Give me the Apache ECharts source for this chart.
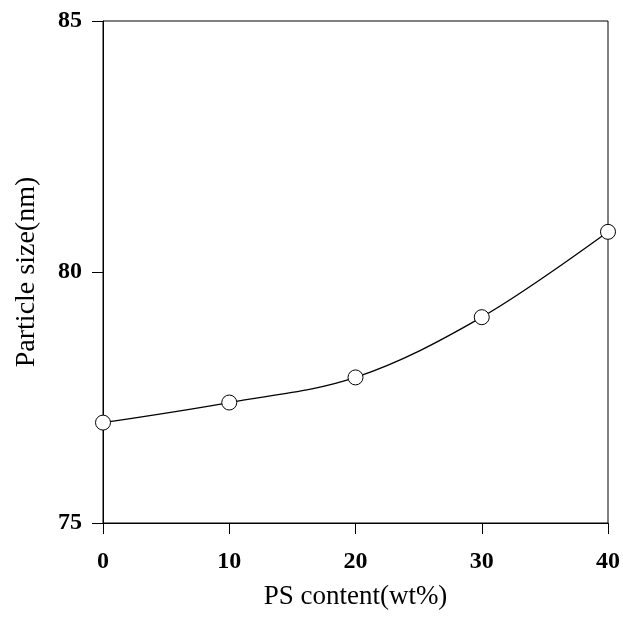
<!DOCTYPE html>
<html>
<head>
<meta charset="utf-8">
<script src="https://cdn.jsdelivr.net/npm/echarts@6/dist/echarts.min.js"></script>
<style>html,body{margin:0;padding:0;background:#fff;}#c{width:623px;height:620px;}</style>
</head>
<body>
<div id="c"></div>
<script>
const psContent = [0, 10, 20, 30, 40];
const particleSize = [77.0, 77.4, 77.9, 79.1, 80.8];
const xTicks = [0, 10, 20, 30, 40];
const yTicks = [75, 80, 85];

const chart = echarts.init(document.getElementById('c'), null, {renderer: 'canvas'});
const font = '"Liberation Serif", "Times New Roman", serif';
chart.setOption({
  animation: false,
  backgroundColor: '#fff',
  grid: {left: 103, right: 11, top: 21, bottom: 97, show: true, borderColor: '#000', borderWidth: 1},
  xAxis: {
    type: 'value', min: 0, max: 40, interval: 10,
    name: 'PS content(wt%)', nameLocation: 'middle', nameGap: 60,
    nameTextStyle: {fontFamily: font, fontSize: 27, color: '#000'},
    axisLine: {show: true, lineStyle: {color: '#000', width: 1}},
    axisTick: {show: true, inside: false, length: 11, lineStyle: {color: '#000'}},
    axisLabel: {fontFamily: font, fontWeight: 'bold', fontSize: 24, color: '#000', margin: 27,
      formatter: v => xTicks.includes(v) ? String(v) : ''},
    splitLine: {show: false}
  },
  yAxis: {
    type: 'value', min: 75, max: 85, interval: 5,
    name: 'Particle size(nm)', nameLocation: 'middle', nameGap: 62,
    nameTextStyle: {fontFamily: font, fontSize: 28, color: '#000'},
    axisLine: {show: true, lineStyle: {color: '#000', width: 1}},
    axisTick: {show: true, inside: false, length: 11, lineStyle: {color: '#000'}},
    axisLabel: {fontFamily: font, fontWeight: 'bold', fontSize: 24, color: '#000', margin: 21,
      formatter: v => yTicks.includes(v) ? String(v) : ''},
    splitLine: {show: false}
  },
  series: [{
    type: 'line',
    data: psContent.map((x, i) => [x, particleSize[i]]),
    smooth: 0.35,
    symbol: 'circle', symbolSize: 15,
    itemStyle: {color: '#fff', borderColor: '#000', borderWidth: 1},
    lineStyle: {color: '#000', width: 1.3},
    clip: false
  }]
});
</script>
</body>
</html>
